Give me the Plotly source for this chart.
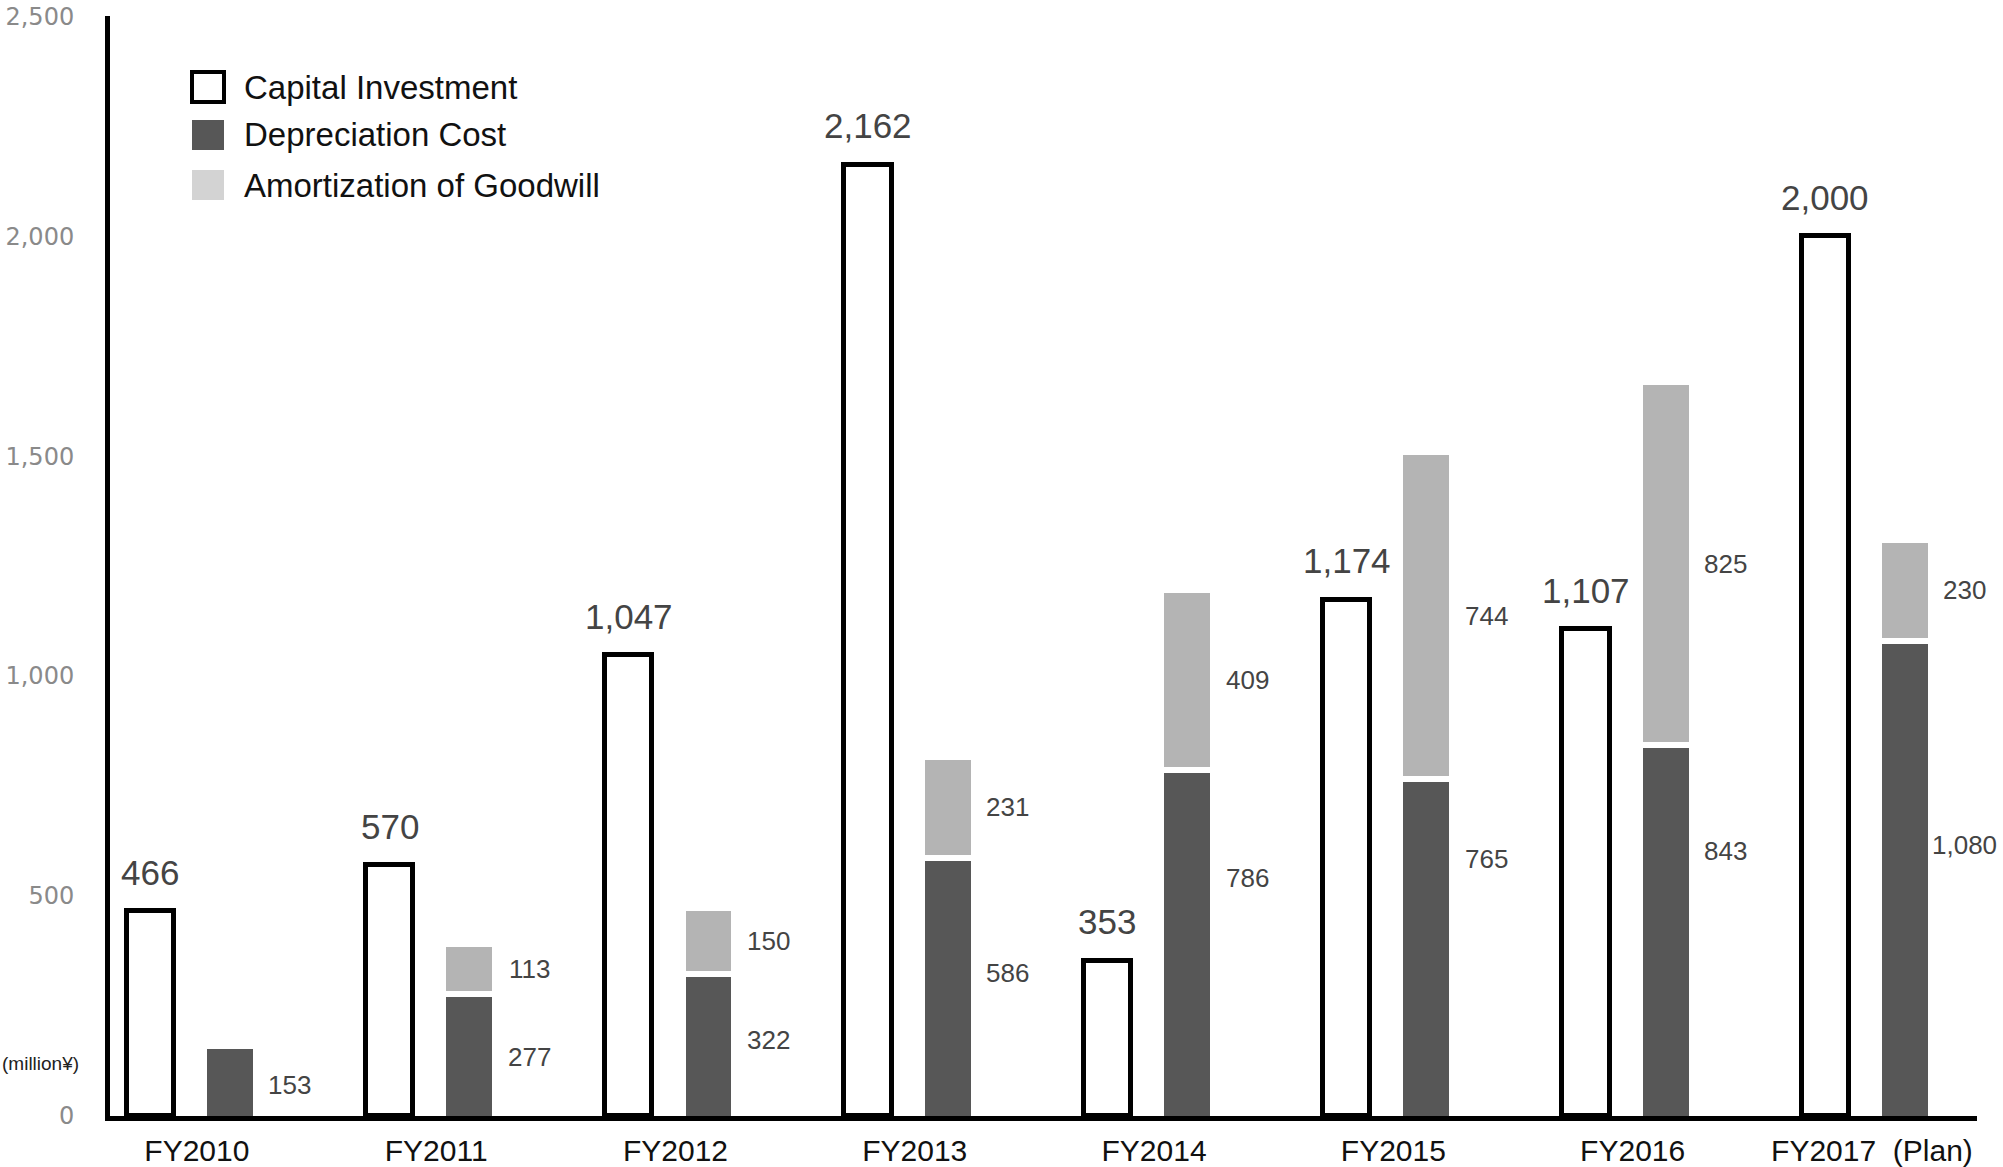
import plotly.graph_objects as go

# Fiscal years and values (million yen)
years = ["FY2010", "FY2011", "FY2012", "FY2013", "FY2014", "FY2015", "FY2016", "FY2017  (Plan)"]
capital_investment = [466, 570, 1047, 2162, 353, 1174, 1107, 2000]
depreciation_cost = [153, 277, 322, 586, 786, 765, 843, 1080]
amortization_goodwill = [None, 113, 150, 231, 409, 744, 825, 230]

# Vertical placement of the depreciation value labels (axis units)
dep_label_y = [70, 133, 172, 325, 540, 584, 602, 615]

W, H = 2003, 1167
PL, PR, PT, PB = 110, 1977, 16, 1116

CI_OFF, CI_W = -0.160, 0.198
DEP_OFF, DEP_W = 0.173, 0.192
GAP = 6  # white separator between stacked segments, px
AM_W = DEP_W + GAP / ((PR - PL) / 7.802)
LABEL_SHIFT = 37  # px from the right edge of the depreciation bar

FONT = "Liberation Sans, Arial, sans-serif"
idx = list(range(len(years)))


def px_x(x):
    return (x - PL) / (PR - PL)


def px_y(y):
    return (PB - y) / (PB - PT)


fig = go.Figure()

fig.add_trace(go.Bar(
    x=[i + CI_OFF for i in idx], y=capital_investment, width=CI_W,
    marker=dict(color="white", line=dict(color="black", width=5)),
    name="Capital Investment", showlegend=False,
))
fig.add_trace(go.Bar(
    x=[i + DEP_OFF for i in idx], y=depreciation_cost, width=DEP_W,
    marker=dict(color="#575757", line=dict(width=0)),
    name="Depreciation Cost", showlegend=False,
))
fig.add_trace(go.Bar(
    x=[i + DEP_OFF for i in idx], y=amortization_goodwill, base=depreciation_cost,
    width=AM_W,
    marker=dict(color="#b4b4b4", line=dict(color="white", width=GAP)),
    name="Amortization of Goodwill", showlegend=False,
))

annotations = []
for i in idx:
    # capital investment value above its bar
    annotations.append(dict(
        x=i + CI_OFF, y=capital_investment[i], xref="x", yref="y",
        text=f"{capital_investment[i]:,}", showarrow=False,
        yanchor="middle", yshift=39,
        font=dict(family=FONT, size=35, color="#444444"),
    ))
    # depreciation value to the right of its bar
    annotations.append(dict(
        x=i + DEP_OFF + DEP_W / 2, y=dep_label_y[i], xref="x", yref="y",
        text=f"{depreciation_cost[i]:,}", showarrow=False,
        xanchor="center", xshift=LABEL_SHIFT,
        font=dict(family=FONT, size=26, color="#444444"),
    ))
    if amortization_goodwill[i] is not None:
        annotations.append(dict(
            x=i + DEP_OFF + DEP_W / 2,
            y=depreciation_cost[i] + amortization_goodwill[i] / 2,
            xref="x", yref="y",
            text=f"{amortization_goodwill[i]:,}", showarrow=False,
            xanchor="center", xshift=LABEL_SHIFT,
            font=dict(family=FONT, size=26, color="#444444"),
        ))

# unit label
annotations.append(dict(
    x=px_x(0), y=px_y(1063), xref="paper", yref="paper",
    text="(million¥)", showarrow=False, xanchor="left", yanchor="middle",
    font=dict(family=FONT, size=19, color="#222222"),
))

# legend drawn as swatches + text
legend_items = [
    ("Capital Investment", 87, dict(fillcolor="white", line=dict(color="black", width=4))),
    ("Depreciation Cost", 135, dict(fillcolor="#575757", line=dict(width=0))),
    ("Amortization of Goodwill", 185, dict(fillcolor="#d3d3d3", line=dict(width=0))),
]
shapes = []
for label, cy, style in legend_items:
    shapes.append(dict(
        type="rect", xref="paper", yref="paper",
        x0=px_x(192), x1=px_x(224), y0=px_y(cy - 15), y1=px_y(cy + 15),
        **style,
    ))
    annotations.append(dict(
        x=px_x(242), y=px_y(cy), xref="paper", yref="paper",
        text=label, showarrow=False, xanchor="left", yanchor="middle",
        font=dict(family=FONT, size=33, color="#111111"),
    ))

fig.update_layout(
    width=W, height=H,
    margin=dict(l=PL, r=W - PR, t=PT, b=H - PB),
    barmode="overlay",
    bargap=0,
    plot_bgcolor="white", paper_bgcolor="white",
    annotations=annotations, shapes=shapes,
    showlegend=False,
)
fig.update_xaxes(
    range=[-0.328, 7.474], automargin=False,
    tickmode="array", tickvals=[i + 0.035 for i in idx], ticktext=years,
    ticks="", showgrid=False, zeroline=False,
    showline=True, linecolor="black", linewidth=5,
    tickfont=dict(family=FONT, size=30, color="#111111"),
    ticklabelstandoff=4, ticklabeloverflow="allow",
)
fig.update_yaxes(
    range=[0, 2500.5], automargin=False,
    tickmode="array", tickvals=[0, 500, 1000, 1500, 2000, 2500],
    ticktext=[f"{v:,}" for v in [0, 500, 1000, 1500, 2000, 2500]],
    ticks="", showgrid=False, zeroline=False,
    showline=True, linecolor="black", linewidth=5,
    tickfont=dict(family="DejaVu Sans, sans-serif", size=24, color="#8a8a8a"),
    ticklabelstandoff=26, ticklabeloverflow="allow",
)

fig.write_html("out.html")
